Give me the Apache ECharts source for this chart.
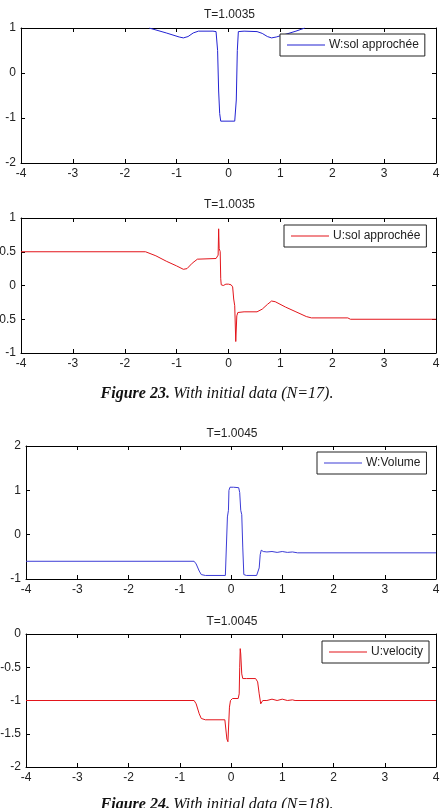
<!DOCTYPE html>
<html>
<head>
<meta charset="utf-8">
<script src="https://cdn.jsdelivr.net/npm/echarts@6/dist/echarts.min.js"></script>
<style>
  html, body { margin: 0; padding: 0; background: #fff; }
  #main { width: 446px; height: 808px; }
</style>
</head>
<body>
<div id="main"></div>
<script>
// panel titles and legend names
var titles = ['T=1.0035', 'T=1.0035', 'T=1.0045', 'T=1.0045'];
var names = ['W:sol approchée', 'U:sol approchée', 'W:Volume', 'U:velocity'];

// figure 23, W
var w23X = [-1.53, -1.2, -0.95, -0.87, -0.78, -0.68, -0.58, -0.3, -0.24, -0.21, -0.19, -0.17, -0.15,
    0.12, 0.15, 0.17, 0.19, 0.3, 0.55, 0.65, 0.75, 0.83, 0.92, 1.1, 1.3, 1.47];
var w23Y = [1.0, 0.89, 0.8, 0.78, 0.81, 0.89, 0.93, 0.93, 0.92, 0.5, -0.4, -0.9, -1.07,
    -1.07, -0.6, 0.5, 0.92, 0.93, 0.92, 0.88, 0.81, 0.78, 0.8, 0.86, 0.93, 1.0];

// figure 23, U
var u23X = [-4, -1.6, -1.4, -1.2, -1.0, -0.87, -0.8, -0.7, -0.6, -0.24, -0.2, -0.19, -0.18, -0.16,
    -0.15, -0.14, -0.1, -0.05, 0.0, 0.05, 0.08, 0.1, 0.12, 0.14, 0.16, 0.18, 0.3, 0.55, 0.65,
    0.75, 0.83, 0.9, 1.1, 1.3, 1.5, 1.6, 2.3, 2.35, 4];
var u23Y = [0.5, 0.5, 0.44, 0.36, 0.29, 0.24, 0.25, 0.33, 0.39, 0.4, 0.45, 0.84, 0.55, 0.5,
    0.1, 0.01, 0.0, 0.02, 0.02, 0.01, -0.02, -0.2, -0.3, -0.83, -0.45, -0.4, -0.39, -0.39, -0.35,
    -0.28, -0.23, -0.24, -0.32, -0.39, -0.46, -0.48, -0.48, -0.5, -0.5];

// figure 24, W
var w24X = [-4, -0.72, -0.68, -0.62, -0.58, -0.5, -0.11, -0.08, -0.07, -0.05, -0.04, -0.02, 0.05,
    0.15, 0.17, 0.19, 0.21, 0.23, 0.25, 0.3, 0.5, 0.53, 0.55, 0.57, 0.59, 0.63, 0.7, 0.8, 0.9,
    1.0, 1.1, 1.2, 1.3, 4];
var w24Y = [-0.6, -0.6, -0.66, -0.82, -0.9, -0.92, -0.92, -0.88, 0.4, 0.55, 1.0, 1.07, 1.07,
    1.06, 0.95, 0.55, 0.45, -0.3, -0.9, -0.92, -0.92, -0.88, -0.75, -0.45, -0.35, -0.38, -0.39,
    -0.38, -0.4, -0.38, -0.4, -0.39, -0.41, -0.41];

// figure 24, U
var u24X = [-4, -0.72, -0.68, -0.62, -0.58, -0.5, -0.12, -0.1, -0.08, -0.06, -0.04, -0.03, -0.01,
    0.03, 0.14, 0.16, 0.17, 0.18, 0.19, 0.21, 0.23, 0.3, 0.48, 0.52, 0.55, 0.58, 0.62, 0.65,
    0.7, 0.8, 0.9, 1.0, 1.1, 1.2, 1.25, 4];
var u24Y = [-1, -1, -1.05, -1.2, -1.27, -1.29, -1.29, -1.3, -1.58, -1.62, -1.6, -1.1, -1.0,
    -0.97, -0.97, -0.9, -0.5, -0.22, -0.3, -0.6, -0.67, -0.67, -0.67, -0.72, -0.9, -1.05, -1.0,
    -0.98, -1.0, -0.98, -1.0, -0.98, -1.0, -0.99, -1.0, -1.0];

// y ranges for each panel
var yMins = [-2, -1, -1, -2];
var yMaxs = [1, 1, 2, 0];
var yStep = [1, 0.5, 1, 0.5];

function pairs(xs, ys) {
    return xs.map(function (x, i) { return [x, ys[i]]; });
}

var curves = [pairs(w23X, w23Y), pairs(u23X, u23Y), pairs(w24X, w24Y), pairs(u24X, u24Y)];
var colors = ['#2323d2', '#e3151b', '#3c3cd6', '#e3151b'];

var grids = [
    {left: 21, top: 28, width: 415, height: 135, outerBoundsMode: 'none'},
    {left: 21, top: 218, width: 415, height: 135, outerBoundsMode: 'none'},
    {left: 26, top: 446, width: 410, height: 133, outerBoundsMode: 'none'},
    {left: 26, top: 634, width: 410, height: 133, outerBoundsMode: 'none'}
];
var legendPos = [[280, 34], [284, 225], [317, 452], [322, 641]];
var titleY = [15, 205, 434, 622];

var font = 'Liberation Sans';
var lineAxis = {onZero: false, lineStyle: {color: '#000', width: 1}};
var tick = {inside: true, length: 4, lineStyle: {color: '#000'}};

var xAxes = [], yAxes = [], series = [], legends = [], graphics = [];
for (var i = 0; i < 4; i++) {
    xAxes.push({
        type: 'value', gridIndex: i, position: 'bottom', min: -4, max: 4, interval: 1,
        axisLine: lineAxis, axisTick: tick, splitLine: {show: false},
        axisLabel: {color: '#222', fontFamily: font, fontSize: 12, margin: 5}
    });
    xAxes.push({
        type: 'value', gridIndex: i, position: 'top', min: -4, max: 4, interval: 1,
        axisLine: lineAxis, axisTick: tick, splitLine: {show: false},
        axisLabel: {show: false}
    });
    yAxes.push({
        type: 'value', gridIndex: i, position: 'left', min: yMins[i], max: yMaxs[i], interval: yStep[i],
        axisLine: lineAxis, axisTick: tick, splitLine: {show: false},
        axisLabel: {color: '#222', fontFamily: font, fontSize: 12, margin: 5}
    });
    yAxes.push({
        type: 'value', gridIndex: i, position: 'right', min: yMins[i], max: yMaxs[i], interval: yStep[i],
        axisLine: lineAxis, axisTick: tick, splitLine: {show: false},
        axisLabel: {show: false}
    });
    series.push({
        name: names[i],
        type: 'line',
        xAxisIndex: i * 2,
        yAxisIndex: i * 2,
        symbol: 'none',
        color: colors[i],
        lineStyle: {width: 1, color: colors[i]},
        data: curves[i],
        animation: false
    });
    legends.push({
        data: [{name: names[i], icon: 'rect'}],
        left: legendPos[i][0],
        top: legendPos[i][1],
        orient: 'horizontal',
        itemWidth: 38,
        itemHeight: 1,
        itemGap: 0,
        padding: [4, 6, 4, 7],
        borderColor: '#222',
        borderWidth: 1,
        backgroundColor: '#fff',
        selectedMode: false,
        textStyle: {color: '#222', fontFamily: font, fontSize: 12, lineHeight: 14, padding: [0, 0, 0, -1]}
    });
    graphics.push({
        type: 'text',
        x: grids[i].left + grids[i].width / 2 + 1,
        y: titleY[i],
        style: {
            text: titles[i], fill: '#222', font: '12px "Liberation Sans"',
            align: 'center', verticalAlign: 'middle'
        }
    });
}

var captions = [['Figure 23.', 'With initial data (N=17).', 394], ['Figure 24.', 'With initial data (N=18).', 805]];
captions.forEach(function (c) {
    graphics.push({
        type: 'text',
        x: 217,
        y: c[2],
        style: {
            text: '{b|' + c[0] + '} {i|' + c[1] + '}',
            align: 'center', verticalAlign: 'middle',
            rich: {
                b: {fontFamily: 'Liberation Serif', fontSize: 16, fontWeight: 'bold', fontStyle: 'italic', fill: '#111'},
                i: {fontFamily: 'Liberation Serif', fontSize: 16, fontStyle: 'italic', fill: '#111'}
            }
        }
    });
});

var option = {
    backgroundColor: '#fff',
    animation: false,
    grid: grids,
    xAxis: xAxes,
    yAxis: yAxes,
    legend: legends,
    series: series,
    graphic: graphics
};

var myChart = echarts.init(document.getElementById('main'));
myChart.setOption(option);
</script>
</body>
</html>
